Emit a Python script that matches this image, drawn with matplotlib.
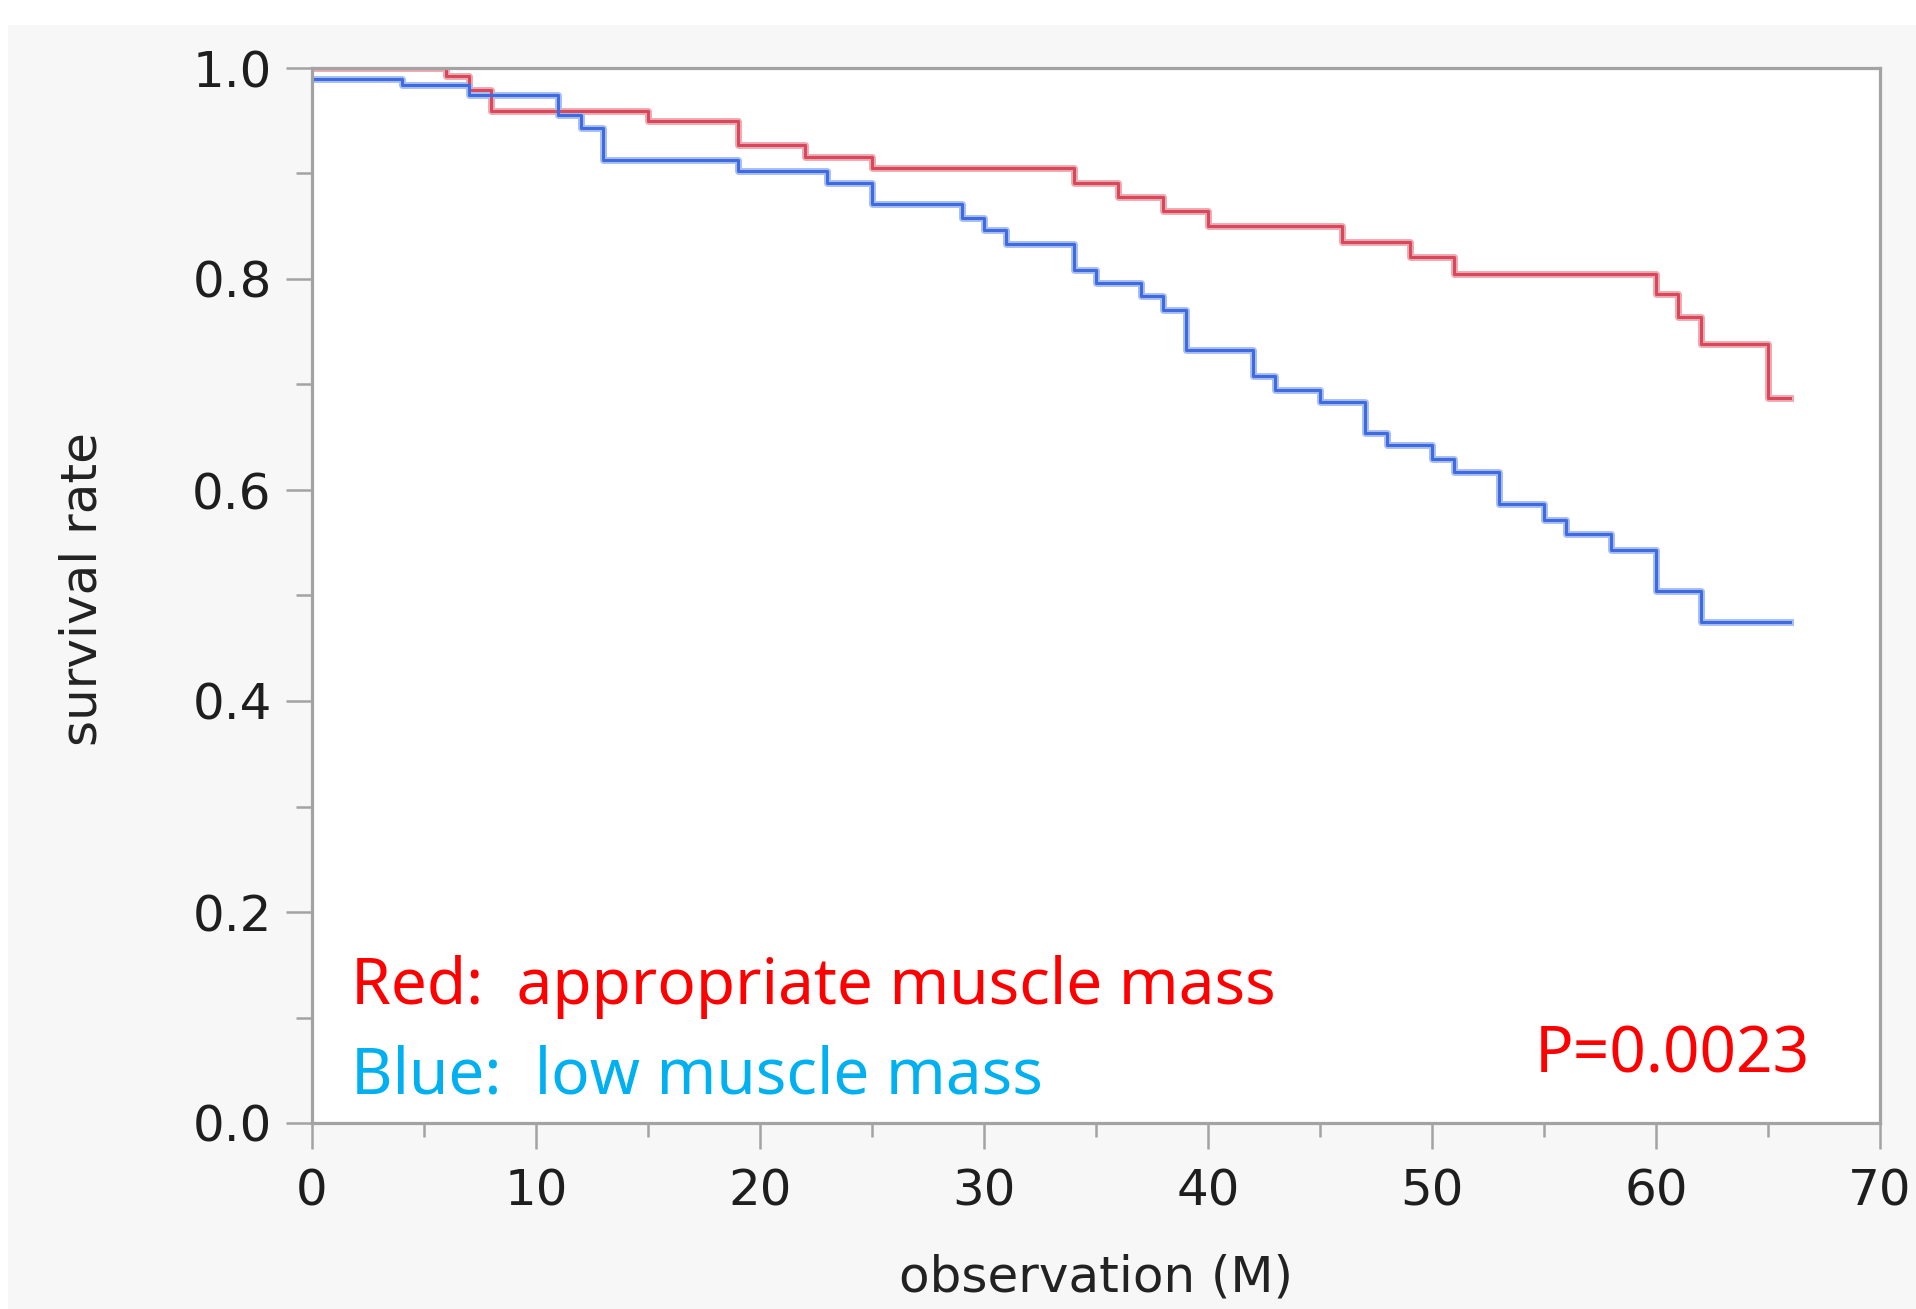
import numpy as np
import matplotlib.pyplot as plt
from matplotlib.patches import Rectangle

# Kaplan-Meier curves
# time of each step (months) and the survival after that step

red_t = [0, 6, 7, 8, 15, 19, 22, 25, 34, 36, 38, 40, 46, 49, 51, 60, 61, 62, 65, 66]
red_s = [1.0, 0.992, 0.979, 0.959, 0.950, 0.927, 0.916, 0.905, 0.891, 0.878,
         0.864, 0.850, 0.835, 0.821, 0.805, 0.786, 0.764, 0.738, 0.687, 0.687]

blue_t = [0, 4, 7, 11, 12, 13, 19, 23, 25, 29, 30, 31, 34, 35, 37, 38, 39, 42, 43, 45,
          47, 48, 50, 51, 53, 55, 56, 58, 60, 62, 66]
blue_s = [0.990, 0.984, 0.974, 0.955, 0.943, 0.913, 0.902, 0.891, 0.871, 0.858,
          0.846, 0.833, 0.809, 0.796, 0.784, 0.771, 0.733, 0.708, 0.695, 0.683,
          0.654, 0.643, 0.629, 0.617, 0.587, 0.572, 0.558, 0.543, 0.504, 0.475, 0.475]

x_ticks = [0, 10, 20, 30, 40, 50, 60, 70]
y_ticks = [0.0, 0.2, 0.4, 0.6, 0.8, 1.0]
y_tick_labels = ['0.0', '0.2', '0.4', '0.6', '0.8', '1.0']

legend_red = 'Red:  appropriate muscle mass'
legend_blue = 'Blue:  low muscle mass'
p_text = 'P=0.0023'

# figure in pixels
W, H = 1916, 1309
fig = plt.figure(figsize=(W / 100, H / 100), dpi=100, facecolor='white')

# light grey panel behind the plot
fig.add_artist(Rectangle((8 / W, 0), 1, 1 - 25 / H, transform=fig.transFigure,
                         facecolor='#f7f7f7', edgecolor='none', zorder=-1))

ax = fig.add_axes([312 / W, 1 - 1123 / H, 1568 / W, 1055 / H])
ax.set_facecolor('white')

# curves: soft halo + core line
ax.step(red_t, red_s, where='post', color='#eeaab2', lw=5, zorder=2)
ax.step(red_t, red_s, where='post', color='#d9485a', lw=2.2, zorder=3)
ax.step(blue_t, blue_s, where='post', color='#a9bff2', lw=5, zorder=2)
ax.step(blue_t, blue_s, where='post', color='#3e6ce0', lw=2.2, zorder=3)

ax.set_xlim(0, 70)
ax.set_ylim(0, 1)

for s in ax.spines.values():
    s.set_color('#a3a3a3')
    s.set_linewidth(2.3)
    s.set_zorder(4)

ax.set_xticks(x_ticks)
ax.set_xticks(np.arange(5, 70, 10), minor=True)
ax.set_yticks(y_ticks)
ax.set_yticklabels(y_tick_labels)
ax.set_yticks(np.arange(0.1, 1.0, 0.2), minor=True)

ax.tick_params(which='major', length=19, width=1.8, color='#a3a3a3',
               labelsize=36, labelcolor='#1e1e1e')
ax.tick_params(axis='x', which='major', pad=13)
ax.tick_params(axis='y', which='major', pad=10)
ax.tick_params(axis='y', which='minor', length=11.5, width=1.8, color='#a3a3a3')
ax.tick_params(axis='x', which='minor', length=10, width=1.8, color='#a3a3a3')

# axis titles
fig.text(83 / W, 1 - 589 / H, 'survival rate', rotation=90, ha='center', va='center',
         fontsize=36, color='#222222')
fig.text(1096 / W, 1 - 1277 / H, 'observation (M)', ha='center', va='center',
         fontsize=36, color='#222222')

# legend text and p value
ax.text(0.025, 0.113, legend_red, transform=ax.transAxes, ha='left', va='baseline',
        color='#ff0000', fontsize=46, family='Noto Sans')
ax.text(0.025, 0.0275, legend_blue, transform=ax.transAxes, ha='left', va='baseline',
        color='#00b0f0', fontsize=46, family='Noto Sans')
ax.text(0.955, 0.048, p_text, transform=ax.transAxes, ha='right', va='baseline',
        color='#ff0000', fontsize=46, family='Noto Sans')

plt.savefig('out.png', dpi=100)
